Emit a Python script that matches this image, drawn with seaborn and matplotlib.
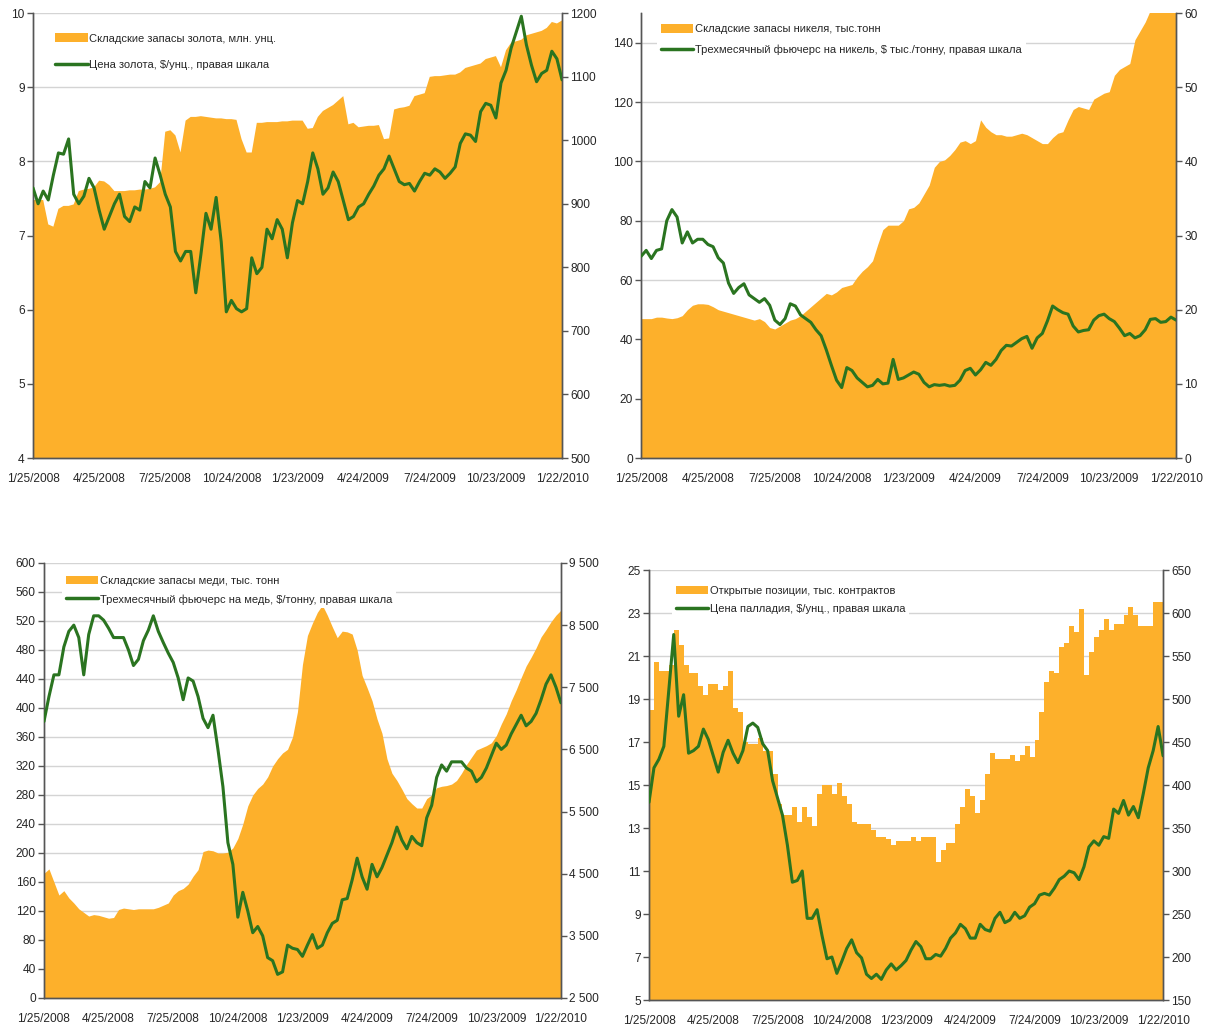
import numpy as np
import pandas as pd
import matplotlib
matplotlib.use("Agg")
import matplotlib.pyplot as plt
import seaborn as sns

# weekly observations, 25 Jan 2008 .. 22 Jan 2010
dates = pd.date_range("2008-01-25", "2010-01-22", freq="7D")

gold_stock = [7.48, 7.48, 7.48, 7.15, 7.12, 7.36, 7.4, 7.4, 7.42, 7.6, 7.62, 7.63, 7.65, 7.74, 7.73,
              7.68, 7.6, 7.6, 7.6, 7.61, 7.61, 7.62, 7.62, 7.63, 7.65, 7.72, 8.4, 8.42, 8.35, 8.12,
              8.55, 8.6, 8.6, 8.61, 8.6, 8.59, 8.58, 8.58, 8.57, 8.57, 8.56, 8.3, 8.12, 8.12, 8.52,
              8.52, 8.53, 8.53, 8.53, 8.54, 8.54, 8.55, 8.55, 8.55, 8.44, 8.45, 8.6, 8.68, 8.72, 8.76,
              8.82, 8.88, 8.5, 8.52, 8.46, 8.47, 8.48, 8.48, 8.49, 8.3, 8.31, 8.7, 8.72, 8.73, 8.75,
              8.88, 8.9, 8.92, 9.14, 9.15, 9.15, 9.16, 9.17, 9.17, 9.2, 9.26, 9.28, 9.3, 9.32, 9.38,
              9.4, 9.42, 9.27, 9.5, 9.6, 9.62, 9.64, 9.7, 9.72, 9.74, 9.76, 9.8, 9.88, 9.86, 9.9]
gold_price = [925, 900, 920, 906, 945, 980, 978, 1002, 915, 900, 912, 940, 925, 890, 860,
              880, 900, 915, 880, 872, 895, 890, 935, 925, 972, 945, 915, 895, 825, 810,
              825, 825, 760, 820, 885, 860, 910, 840, 730, 748, 735, 730, 735, 815, 790,
              800, 860, 845, 875, 860, 815, 870, 905, 900, 935, 980, 955, 915, 925, 950,
              935, 905, 875, 880, 895, 900, 915, 928, 945, 955, 975, 955, 935, 930, 932,
              920, 935, 948, 945, 955, 950, 940, 948, 958, 995, 1010, 1008, 998, 1045, 1058,
              1055, 1035, 1090, 1110, 1145, 1170, 1195, 1150, 1118, 1092, 1105, 1110, 1140, 1128, 1095]

nickel_stock = [47, 47, 47, 47.5, 47.5, 47.2, 47, 47.3, 48, 50, 51.5, 52, 52, 51.8, 51,
                50, 49.5, 49, 48.5, 48, 47.5, 47, 46.5, 47, 46, 44, 43.5, 44.5, 45.5, 46.5,
                47, 48, 49.5, 51, 52.5, 54, 55.5, 55, 56, 57.5, 58, 58.5, 61, 63, 64.5,
                66.5, 72, 77, 78.5, 78.5, 78.5, 80, 84, 84.5, 86, 89, 92, 98, 100, 100.5,
                102, 104, 106.5, 107, 106, 107, 114, 111.5, 110, 109, 109, 108.5, 108.5, 109, 109.5,
                109, 108, 107, 106, 106, 108, 109.5, 110, 114, 117.5, 118.5, 118, 117.5, 121, 122,
                123, 123.5, 129, 131, 132, 133, 141, 144, 147, 151, 155, 156, 157, 158, 160]
nickel_price = [27.2, 28, 26.9, 28, 28.2, 32, 33.5, 32.5, 29, 30.5, 29, 29.5, 29.5, 28.8, 28.5,
                27, 26.3, 23.6, 22.2, 23, 23.5, 22, 21.5, 21, 21.5, 20.6, 18.6, 18, 18.8, 20.8,
                20.5, 19.3, 18.8, 18.3, 17.3, 16.5, 14.6, 12.5, 10.5, 9.5, 12.2, 11.8, 10.8, 10.2, 9.6,
                9.8, 10.6, 10, 10.1, 13.3, 10.6, 10.8, 11.2, 11.6, 11.3, 10.2, 9.6, 9.9, 9.8, 9.9,
                9.7, 9.8, 10.5, 11.8, 12.1, 11.2, 11.9, 12.9, 12.5, 13.3, 14.5, 15.2, 15.1, 15.6, 16.1,
                16.4, 14.8, 16.2, 16.8, 18.5, 20.5, 20, 19.6, 19.4, 17.8, 17, 17.2, 17.3, 18.6, 19.2,
                19.4, 18.8, 18.4, 17.5, 16.5, 16.8, 16.2, 16.5, 17.3, 18.7, 18.8, 18.3, 18.4, 19, 18.6]

copper_stock = [172, 178, 160, 142, 148, 138, 131, 123, 118, 113, 115, 114, 112, 110, 111,
                122, 124, 123, 122, 123, 123, 123, 123, 125, 128, 131, 142, 148, 151, 157,
                168, 177, 202, 204, 203, 200, 200, 201, 207, 220, 240, 265, 280, 289, 295,
                305, 320, 330, 338, 343, 360, 395, 460, 500, 517, 532, 542, 528, 512, 497,
                506, 505, 502, 480, 445, 428, 410, 385, 365, 330, 310, 300, 288, 275, 268,
                262, 262, 275, 280, 290, 292, 293, 295, 300, 310, 322, 332, 342, 345, 348,
                352, 362, 378, 392, 410, 425, 442, 458, 470, 483, 498, 508, 519, 528, 535]
copper_price = [6950, 7350, 7700, 7700, 8150, 8400, 8500, 8300, 7700, 8350, 8650, 8650, 8580, 8450, 8300,
                8300, 8300, 8100, 7850, 7950, 8250, 8420, 8650, 8400, 8220, 8050, 7900, 7650, 7300, 7650,
                7600, 7350, 7000, 6850, 7050, 6500, 5900, 5000, 4650, 3800, 4200, 3900, 3550, 3650, 3500,
                3150, 3100, 2880, 2920, 3350, 3300, 3280, 3170, 3350, 3520, 3300, 3350, 3550, 3700, 3750,
                4080, 4100, 4400, 4750, 4450, 4250, 4650, 4450, 4600, 4800, 5000, 5250, 5040, 4900, 5100,
                5000, 4950, 5400, 5600, 6050, 6250, 6150, 6300, 6300, 6300, 6200, 6150, 5980, 6050, 6200,
                6400, 6600, 6500, 6570, 6750, 6900, 7050, 6880, 6950, 7080, 7300, 7550, 7700, 7500, 7250]

pall_oi = [18.5, 20.7, 20.3, 20.3, 20.6, 22.2, 21.5, 20.6, 20.2, 20.2, 19.6, 19.2, 19.7, 19.7, 19.4,
           19.6, 20.3, 18.6, 18.4, 17, 16.9, 16.9, 17.2, 16.6, 16.6, 15.5, 14.1, 13.6, 13.6, 14,
           13.3, 14, 13.5, 13.1, 14.6, 15, 15, 14.6, 15.1, 14.5, 14.1, 13.3, 13.2, 13.2, 13.2,
           12.9, 12.6, 12.6, 12.5, 12.2, 12.4, 12.4, 12.4, 12.6, 12.4, 12.6, 12.6, 12.6, 11.4, 12,
           12.3, 12.3, 13.2, 14, 14.8, 14.5, 13.7, 14.3, 15.5, 16.5, 16.2, 16.2, 16.2, 16.4, 16.1,
           16.4, 16.8, 16.3, 17.1, 18.4, 19.8, 20.3, 20.2, 21.4, 21.6, 22.4, 22.1, 23.2, 20.1, 21.2,
           21.9, 22.2, 22.7, 22.2, 22.5, 22.5, 22.9, 23.3, 22.9, 22.4, 22.4, 22.4, 23.5, 23.5, 23.3]
pall_price = [380, 420, 430, 445, 510, 575, 480, 505, 437, 440, 445, 465, 453, 434, 415,
              438, 452, 437, 426, 440, 468, 472, 467, 448, 440, 405, 385, 365, 330, 287,
              289, 300, 245, 245, 255, 225, 198, 200, 181, 195, 210, 220, 205, 199, 180,
              175, 180, 174, 185, 192, 185, 190, 196, 208, 218, 212, 198, 198, 203, 201,
              210, 222, 228, 238, 233, 222, 222, 238, 232, 230, 245, 252, 240, 243, 252,
              245, 248, 258, 262, 272, 274, 272, 280, 290, 294, 300, 298, 290, 305, 328,
              335, 330, 340, 338, 372, 367, 382, 365, 375, 362, 390, 420, 440, 468, 434]

tick_dates = dates[::13]
tick_labels = [f"{d.month}/{d.day}/{d.year}" for d in tick_dates]

ORANGE = "#FDB02B"
GREEN = "#2A7420"
GRID = "#D4D4D4"
SPINE = "#555555"
TICK_FS = 8.6
LEG_FS = 8.0

sns.set_style("white")
plt.rcParams["font.family"] = ["Liberation Sans", "DejaVu Sans"]


def space_thousands(v, pos=None):
    return f"{int(round(v)):,}".replace(",", " ")


def panel(rect, stock, price, yl, yr, lticks, rticks, labels, leg_anchor, leg_space,
          step=None, rfmt=None):
    ax = fig.add_axes(rect)
    ax.fill_between(dates, stock, yl[0] - 100, color=ORANGE, lw=0, step=step, zorder=2)
    ax.set_ylim(*yl)
    ax.set_yticks(lticks)
    ax.set_xlim(dates[0], dates[-1])
    ax.set_xticks(tick_dates)
    ax.set_xticklabels(tick_labels)
    ax.grid(axis="y", color=GRID, lw=1, zorder=0)
    ax.grid(axis="x", visible=False)
    ax.set_axisbelow(True)
    ax2 = ax.twinx()
    sns.lineplot(x=dates, y=price, ax=ax2, color=GREEN, lw=2.2, zorder=3)
    ax2.set_ylim(*yr)
    ax2.set_yticks(rticks)
    if rfmt:
        ax2.yaxis.set_major_formatter(plt.FuncFormatter(rfmt))
    ax2.set_xlim(dates[0], dates[-1])
    for a in (ax, ax2):
        a.spines["top"].set_visible(False)
        for s in ("left", "right", "bottom"):
            a.spines[s].set_color(SPINE)
            a.spines[s].set_linewidth(1)
        a.tick_params(length=4, width=1, color=SPINE, pad=2, labelsize=TICK_FS)
        a.set_xlabel("")
        a.set_ylabel("")
    ax.tick_params(axis="x", pad=7)
    h1 = plt.Rectangle((0, 0), 1, 1, color=ORANGE, lw=0)
    h2 = plt.Line2D([], [], color=GREEN, lw=2.5)
    leg = ax2.legend([h1, h2], labels, loc="upper left", bbox_to_anchor=leg_anchor,
                     frameon=True, facecolor="white", edgecolor="none", framealpha=1,
                     fancybox=False, fontsize=LEG_FS, handlelength=2.9, handleheight=0.8,
                     handletextpad=0.15, labelspacing=leg_space, borderpad=0.35,
                     borderaxespad=0)
    leg.set_zorder(5)
    return ax, ax2


fig = plt.figure(figsize=(12.05, 10.3), dpi=100)

panel([0.0274, 0.5553, 0.439, 0.432], gold_stock, gold_price, (4, 10), (500, 1200),
      np.arange(4, 11, 1), np.arange(500, 1201, 100),
      ["Складские запасы золота, млн. унц.", "Цена золота, $/унц., правая шкала"],
      (0.035, 0.963), 1.45)

panel([0.532, 0.5553, 0.444, 0.432], nickel_stock, nickel_price, (0, 150), (0, 60),
      np.arange(0, 141, 20), np.arange(0, 61, 10),
      ["Складские запасы никеля, тыс.тонн",
       "Трехмесячный фьючерс на никель, $ тыс./тонну, правая шкала"],
      (0.03, 0.984), 0.9)

panel([0.0365, 0.0311, 0.429, 0.4223], copper_stock, copper_price, (0, 600), (2500, 9500),
      np.arange(0, 601, 40), np.arange(2500, 9501, 1000),
      ["Складские запасы меди, тыс. тонн",
       "Трехмесячный фьючерс на медь, $/тонну, правая шкала"],
      (0.035, 0.98), 0.75, rfmt=space_thousands)

panel([0.5386, 0.0291, 0.4266, 0.4175], pall_oi, pall_price, (5, 25), (150, 650),
      np.arange(5, 26, 2), np.arange(150, 651, 50),
      ["Открытые позиции, тыс. контрактов", "Цена палладия, $/унц., правая шкала"],
      (0.045, 0.973), 0.75, step="post")

fig.savefig("out.png", dpi=100)
